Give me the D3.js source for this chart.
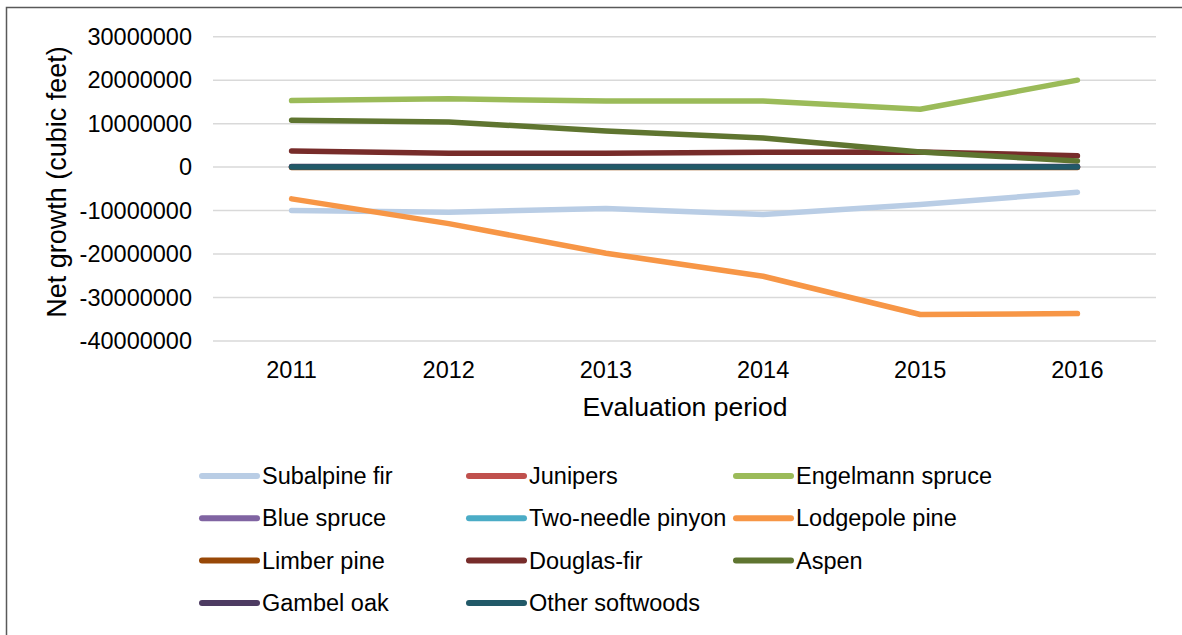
<!DOCTYPE html>
<html>
<head>
<meta charset="utf-8">
<script src="https://cdn.jsdelivr.net/npm/d3@7"></script>
<style>
  body { margin: 0; background: #fff; }
  svg { display: block; font-family: "Liberation Sans", Arial, sans-serif; }
</style>
</head>
<body>
<svg id="chart" width="1182" height="635"></svg>
<script>
// chart data
const years = ["2011", "2012", "2013", "2014", "2015", "2016"]
const seriesNames = ["Subalpine fir", "Junipers", "Engelmann spruce", "Blue spruce",
  "Two-needle pinyon", "Lodgepole pine", "Limber pine", "Douglas-fir", "Aspen",
  "Gambel oak", "Other softwoods"]
const seriesColors = ["#B9CDE5", "#C0504D", "#9BBB59", "#8064A2", "#4BACC6", "#F79646",
  "#984807", "#772C2A", "#5F7530", "#4D3B62", "#215968"]

const subalpineFir = [-10000000, -10400000, -9500000, -10900000, -8600000, -5800000]
const junipers = [50000, 50000, 50000, 50000, 50000, 50000]
const engelmannSpruce = [15300000, 15700000, 15200000, 15200000, 13300000, 20000000]
const blueSpruce = [80000, 80000, 80000, 80000, 80000, 80000]
const twoNeedlePinyon = [30000, 30000, 30000, 30000, 30000, 30000]
const lodgepolePine = [-7300000, -13000000, -19800000, -25100000, -33900000, -33700000]
const limberPine = [-80000, -80000, -80000, -80000, -80000, -80000]
const douglasFir = [3700000, 3200000, 3200000, 3400000, 3500000, 2600000]
const aspen = [10800000, 10400000, 8300000, 6700000, 3500000, 1400000]
const gambelOak = [120000, 120000, 120000, 120000, 120000, 120000]
const otherSoftwoods = [0, 0, 0, 0, 0, 0]

const yTicks = [30000000, 20000000, 10000000, 0, -10000000, -20000000, -30000000, -40000000]

const allValues = [subalpineFir, junipers, engelmannSpruce, blueSpruce, twoNeedlePinyon,
  lodgepolePine, limberPine, douglasFir, aspen, gambelOak, otherSoftwoods]

const series = seriesNames.map((name, i) => ({
  name: name,
  color: seriesColors[i],
  values: allValues[i]
}))

const svg = d3.select("#chart")

// outer border of the chart area
svg.append("rect")
   .attr("x", 6.5)
   .attr("y", 7.5)
   .attr("width", 1200)
   .attr("height", 700)
   .attr("fill", "none")
   .attr("stroke", "#595959")
   .attr("stroke-width", 1.5)

const x = d3.scalePoint()
            .domain(years)
            .range([213, 1156])
            .padding(0.5)

const y = d3.scaleLinear()
            .domain([-40000000, 30000000])
            .range([341, 36.7])

// gridlines
svg.append("g")
   .selectAll("line")
   .data(yTicks)
   .enter()
   .append("line")
   .attr("x1", 213)
   .attr("x2", 1156)
   .attr("y1", d => y(d))
   .attr("y2", d => y(d))
   .attr("stroke", "#D9D9D9")
   .attr("stroke-width", 1.5)

// y tick labels (plain hyphen for negatives, like the original)
svg.append("g")
   .selectAll("text")
   .data(yTicks)
   .enter()
   .append("text")
   .text(d => String(d))
   .attr("x", 192)
   .attr("y", d => y(d))
   .attr("text-anchor", "end")
   .attr("dominant-baseline", "central")
   .attr("font-size", "23.5px")
   .attr("fill", "#000")

// x tick labels
svg.append("g")
   .selectAll("text")
   .data(years)
   .enter()
   .append("text")
   .text(d => d)
   .attr("x", d => x(d))
   .attr("y", 378)
   .attr("text-anchor", "middle")
   .attr("font-size", "23.5px")
   .attr("fill", "#000")

// axis titles
svg.append("text")
   .text("Evaluation period")
   .attr("x", 685)
   .attr("y", 416)
   .attr("text-anchor", "middle")
   .attr("font-size", "26.5px")

svg.append("text")
   .text("Net growth (cubic feet)")
   .attr("transform", "translate(66,182) rotate(-90)")
   .attr("text-anchor", "middle")
   .attr("font-size", "27px")

// lines
const line = d3.line()
               .x((d, i) => x(years[i]))
               .y(d => y(d))

svg.append("g")
   .selectAll("path")
   .data(series)
   .enter()
   .append("path")
   .attr("d", d => line(d.values))
   .attr("fill", "none")
   .attr("stroke", d => d.color)
   .attr("stroke-width", 5.5)
   .attr("stroke-linecap", "round")
   .attr("stroke-linejoin", "round")

// legend, three columns
const legend = svg.append("g")

const items = legend.selectAll("g")
                    .data(series)
                    .enter()
                    .append("g")
                    .attr("transform", (d, i) =>
                      "translate(" + (202 + (i % 3) * 267) + "," + (476 + Math.floor(i / 3) * 42.3) + ")")

items.append("line")
     .attr("x1", 0)
     .attr("x2", 55)
     .attr("stroke", d => d.color)
     .attr("stroke-width", 6)
     .attr("stroke-linecap", "round")

items.append("text")
     .text(d => d.name)
     .attr("x", 60)
     .attr("dominant-baseline", "central")
     .attr("font-size", "23.5px")
</script>
</body>
</html>
